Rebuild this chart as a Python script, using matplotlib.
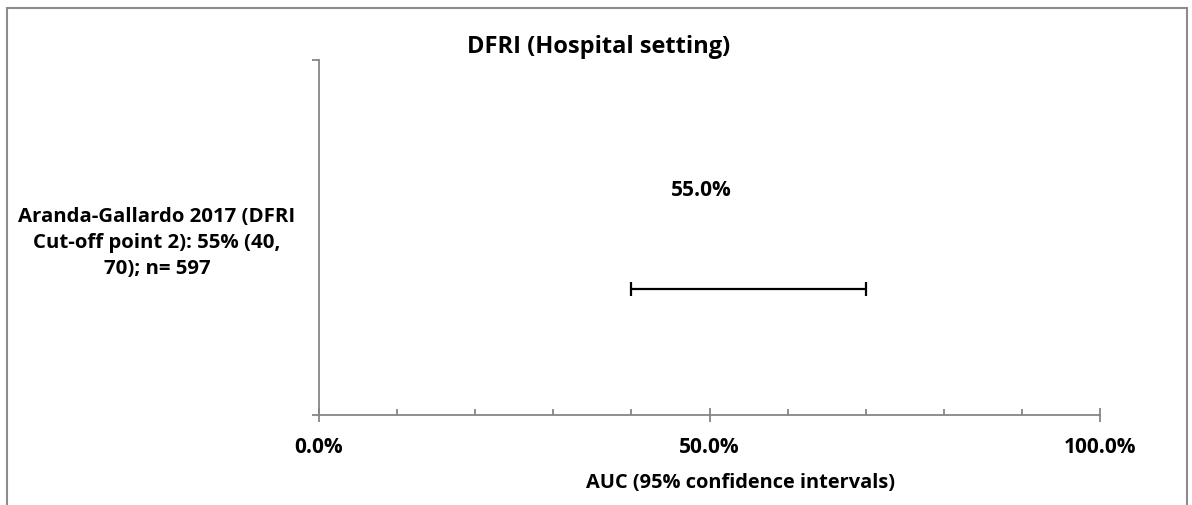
import matplotlib
matplotlib.use('Agg')
import matplotlib.pyplot as plt
from matplotlib.patches import Rectangle
from matplotlib.ticker import MultipleLocator, FixedLocator, PercentFormatter

# study estimate: AUC (%) with 95% CI
study_labels = ['Aranda-Gallardo 2017 (DFRI\nCut-off point 2): 55% (40,\n70); n= 597']
auc = [55.0]
ci_low = [40.0]
ci_high = [70.0]
ypos = [0.355]

title = 'DFRI (Hospital setting)'
xlabel = 'AUC (95% confidence intervals)'

axis_grey = '#868686'
plt.rcParams['font.family'] = ['Open Sans', 'DejaVu Sans']
plt.rcParams['font.weight'] = 'bold'

W, H = 1192, 505
fig = plt.figure(figsize=(W / 100, H / 100), dpi=100)

# chart border (bottom edge runs off the image)
fig.patches.append(Rectangle((7 / W, -0.1), (1187 - 7) / W, 1.1 - 8 / H,
                             transform=fig.transFigure, fill=False,
                             edgecolor='#8c8c8c', linewidth=1.5))

ax = fig.add_axes([319 / W, 1 - 415 / H, (1100 - 319) / W, (415 - 60) / H])

xerr = [[a - lo for a, lo in zip(auc, ci_low)],
        [hi - a for a, hi in zip(auc, ci_high)]]
ax.errorbar(auc, ypos, xerr=xerr, fmt='none', ecolor='black',
            elinewidth=1.6, capsize=5, capthick=1.6)

for a, y in zip(auc, ypos):
    ax.annotate(f'{a:.1f}%', xy=(a, y), xytext=(-34, 71),
                textcoords='offset points', ha='center', va='center',
                fontsize=15, fontweight='bold')

ax.set_xlim(0, 100)
ax.set_ylim(0, 1)

for s in ['top', 'right']:
    ax.spines[s].set_visible(False)
for s in ['left', 'bottom']:
    ax.spines[s].set_color(axis_grey)
    ax.spines[s].set_linewidth(1.3)

ax.xaxis.set_major_locator(MultipleLocator(50))
ax.xaxis.set_minor_locator(MultipleLocator(10))
ax.xaxis.set_major_formatter(PercentFormatter(decimals=1))
ax.tick_params(axis='x', which='major', direction='inout', length=10,
               width=1.3, color=axis_grey, pad=11, labelsize=15)
ax.tick_params(axis='x', which='minor', direction='in', length=4.5,
               width=1.3, color=axis_grey)

ax.yaxis.set_major_locator(FixedLocator([0, 1]))
ax.yaxis.set_major_formatter(plt.NullFormatter())
ax.yaxis.set_minor_locator(FixedLocator([0.5]))
ax.set_yticklabels(study_labels, minor=True, multialignment='center',
                   linespacing=1.42)
ax.tick_params(axis='y', which='minor', length=0, pad=17, labelsize=14.7)
ax.tick_params(axis='y', which='major', direction='out', length=5,
               width=1.3, color=axis_grey)

ax.set_xlabel(xlabel, fontsize=14.4, fontweight='bold')
ax.xaxis.set_label_coords((741 - 319) / (1100 - 319), -0.163)

fig.text(599 / W, 1 - 47 / H, title, ha='center', va='center',
         fontsize=17, fontweight='bold')

fig.savefig('out.png', dpi=100)
